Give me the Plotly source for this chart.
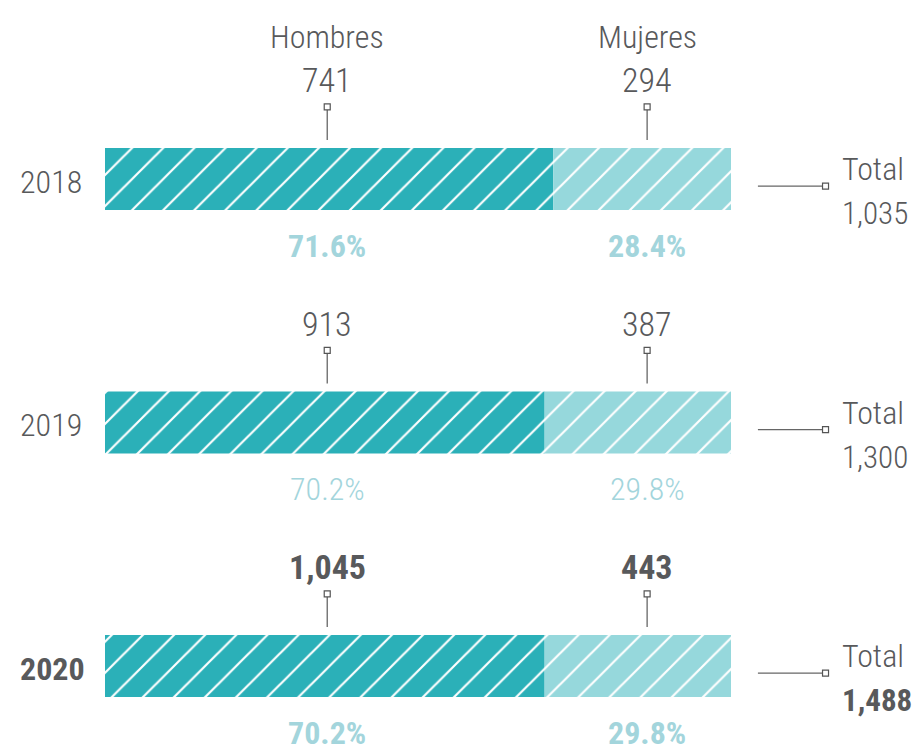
import plotly.graph_objects as go

years = ["2018", "2019", "2020"]
hombres = [741, 913, 1045]
mujeres = [294, 387, 443]
totals = [1035, 1300, 1488]
pct_h = ["71.6%", "70.2%", "70.2%"]
pct_m = ["28.4%", "29.8%", "29.8%"]
series_names = ["Hombres", "Mujeres"]
bold_nums = [False, False, True]
bold_pct = [True, False, True]

TEAL = "#2bb0b8"
LTEAL = "#96d8dc"
PCT = "#a3d5dc"
GREY = "#58595b"
FONT = "Roboto Condensed"

share_h = [h / t * 100 for h, t in zip(hombres, totals)]
share_m = [m / t * 100 for m, t in zip(mujeres, totals)]
ypos = list(range(len(years)))

W, H = 916, 752
PXPCT = 6.26          # pixels per percent
X0 = 105              # pixel of 0%
YC0 = 179             # pixel of first bar centre
STEP = 243.5          # pixels between bars

fig = go.Figure()
pat = dict(shape="/", fgcolor="white", fgopacity=1, size=22, solidity=0.1)
fig.add_bar(y=ypos, x=share_h, orientation="h", width=0.255,
            marker=dict(color=TEAL, line=dict(width=0), pattern=pat), hoverinfo="skip")
fig.add_bar(y=ypos, x=share_m, base=share_h, orientation="h", width=0.255,
            marker=dict(color=LTEAL, line=dict(width=0), pattern=pat), hoverinfo="skip")

COL_H, COL_M = 35.5, 86.6
X_TOT0, X_TOT1, X_TOTT = 104.3, 115.1, 117.4
LEFT_X = -13.9

def fmt(v):
    return f"{v:,}"

def fnt(size, color, bold):
    return dict(size=size, color=color, family=FONT, weight=700 if bold else 300)

ann = []
for i, y in enumerate(ypos):
    for cx in (COL_H, COL_M):
        fig.add_scatter(x=[cx, cx], y=[y - 0.296, y - 0.160], mode="lines",
                        line=dict(color="#666666", width=1.3), hoverinfo="skip")
        fig.add_scatter(x=[cx], y=[y - 0.296], mode="markers",
                        marker=dict(symbol="square", size=6, color="white",
                                    line=dict(color="#555555", width=1.2)), hoverinfo="skip")
    fig.add_scatter(x=[X_TOT0, X_TOT1], y=[y + 0.029, y + 0.029], mode="lines",
                    line=dict(color="#666666", width=1.3), hoverinfo="skip")
    fig.add_scatter(x=[X_TOT1], y=[y + 0.029], mode="markers",
                    marker=dict(symbol="square", size=6, color="white",
                                line=dict(color="#555555", width=1.2)), hoverinfo="skip")
    for cx, val in ((COL_H, hombres[i]), (COL_M, mujeres[i])):
        ann.append(dict(x=cx, y=y - 0.405, text=fmt(val), showarrow=False,
                        font=fnt(34, GREY, bold_nums[i]), xanchor="center", yanchor="middle"))
    for cx, p in ((COL_H, pct_h[i]), (COL_M, pct_m[i])):
        ann.append(dict(x=cx, y=y + 0.275, text=p, showarrow=False,
                        font=fnt(32, PCT, bold_pct[i]), xanchor="center", yanchor="middle"))
    ann.append(dict(x=LEFT_X, y=y + 0.012, text=years[i], showarrow=False,
                    font=fnt(32, GREY, bold_nums[i]), xanchor="left", yanchor="middle"))
    ann.append(dict(x=X_TOTT, y=y - 0.040, text="Total", showarrow=False,
                    font=fnt(32, GREY, False), xanchor="left", yanchor="middle"))
    ann.append(dict(x=X_TOTT, y=y + 0.142, text=fmt(totals[i]), showarrow=False,
                    font=fnt(31, GREY, bold_nums[i]),
                    xanchor="left", yanchor="middle"))

for cx, name in ((COL_H, series_names[0]), (COL_M, series_names[1])):
    ann.append(dict(x=cx, y=-0.583, text=name, showarrow=False,
                    font=fnt(32, GREY, False), xanchor="center", yanchor="middle"))

fig.update_layout(
    barmode="overlay", showlegend=False, width=W, height=H,
    margin=dict(l=0, r=0, t=0, b=0),
    plot_bgcolor="white", paper_bgcolor="white",
    xaxis=dict(range=[-X0 / PXPCT, (W - X0) / PXPCT], visible=False, fixedrange=True),
    yaxis=dict(range=[(H - YC0) / STEP, -YC0 / STEP], visible=False, fixedrange=True),
    annotations=ann,
)
fig.write_html("out.html", config={"displayModeBar": False, "staticPlot": True},
               post_script="document.body.style.margin='0';document.body.style.overflow='hidden';")
